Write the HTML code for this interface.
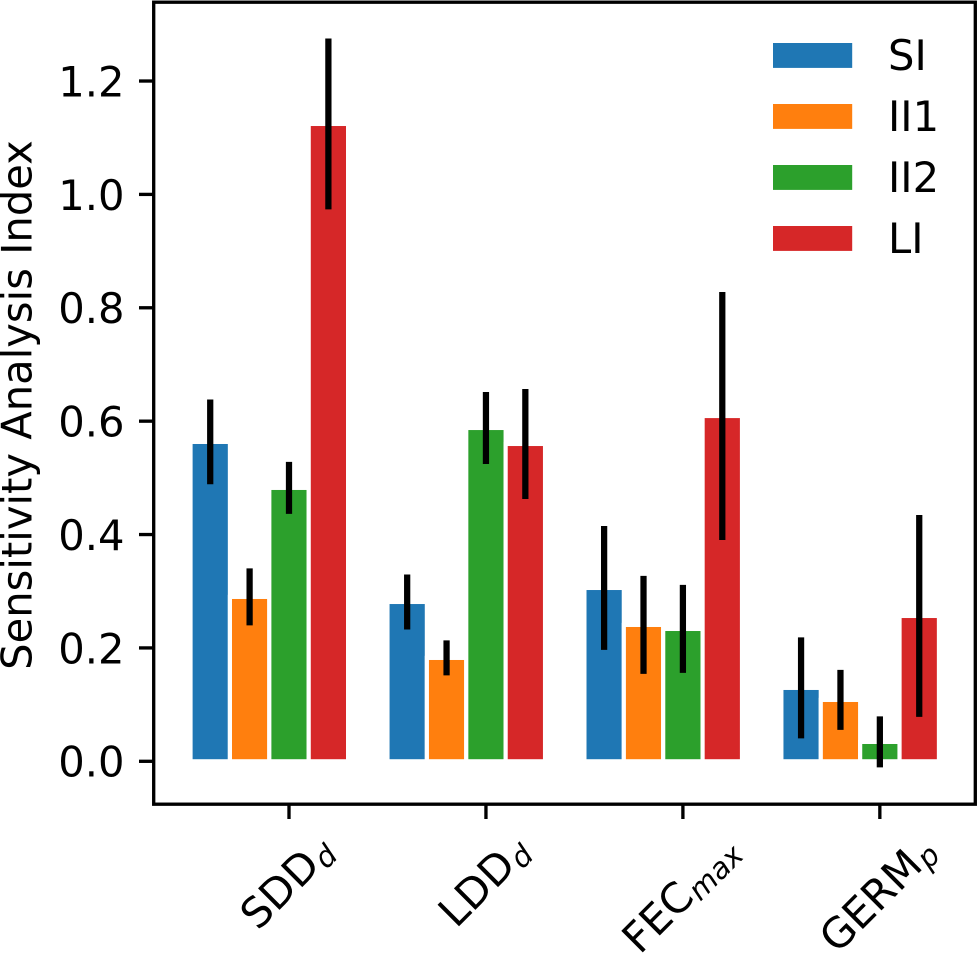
<!DOCTYPE html>
<html lang="en">
<head>
<meta charset="utf-8">
<title>Sensitivity Analysis Index</title>
<style>
html,body{margin:0;padding:0;background:#fff;}
svg{display:block;}
text{font-family:"DejaVu Sans",sans-serif;fill:#000;}
</style>
</head>
<body>
<svg id="chart" xmlns="http://www.w3.org/2000/svg" width="979" height="958" viewBox="0 0 979 958">
  <rect x="0" y="0" width="979" height="958" fill="#ffffff"/>
  <g id="bars"></g>
  <g id="errors"></g>
  <rect x="153.7" y="2.2" width="821.6" height="802" fill="none" stroke="#000" stroke-width="3.33"/>
  <g id="yaxis"></g>
  <g id="xaxis"></g>
  <text transform="translate(31.5,405) rotate(-90)" text-anchor="middle" font-size="41.67">Sensitivity Analysis Index</text>
  <g id="legend"></g>
</svg>
<script>
const categories = ['SDD', 'LDD', 'FEC', 'GERM'];
const categorySubs = ['d', 'd', 'max', 'p'];
const seriesNames = ['SI', 'II1', 'II2', 'LI'];
const seriesColors = ['#1f77b4', '#ff7f0e', '#2ca02c', '#d62728'];
const siValues = [0.5634, 0.2811, 0.3058, 0.1295];
const ii1Values = [0.2900, 0.1824, 0.2406, 0.1083];
const ii2Values = [0.4823, 0.5880, 0.2335, 0.0342];
const liValues = [1.1243, 0.5598, 0.6091, 0.2564];
const siErrors = [0.0747, 0.0485, 0.1093, 0.0891];
const ii1Errors = [0.0503, 0.0309, 0.0864, 0.0529];
const ii2Errors = [0.0459, 0.0635, 0.0776, 0.0450];
const liErrors = [0.1508, 0.0970, 0.2187, 0.1781];
const yTicks = [0, 0.2, 0.4, 0.6, 0.8, 1.0, 1.2];
const yTickLabels = ['0.0', '0.2', '0.4', '0.6', '0.8', '1.0', '1.2'];

const seriesValues = [siValues, ii1Values, ii2Values, liValues];
const seriesErrors = [siErrors, ii1Errors, ii2Errors, liErrors];

const NS = 'http://www.w3.org/2000/svg';
const barWidth = 0.2;
const xScale = function (u) { return 289.0 + 196.95 * u; };
const yScale = function (v) { return 761.3 - 566.9 * v; };
const seriesOffset = function (s) { return -0.4 + 0.2 * s; };

function make(parent, tag, attrs) {
  const el = document.createElementNS(NS, tag);
  Object.keys(attrs).forEach(function (k) { el.setAttribute(k, attrs[k]); });
  parent.appendChild(el);
  return el;
}

const barsG = document.getElementById('bars');
const errG = document.getElementById('errors');
seriesValues.forEach(function (vals, s) {
  vals.forEach(function (v, g) {
    const c = g + seriesOffset(s);
    const r = make(barsG, 'rect', {
      x: xScale(c - barWidth / 2),
      y: yScale(v),
      width: xScale(c + barWidth / 2) - xScale(c - barWidth / 2),
      height: yScale(0) - yScale(v),
      fill: seriesColors[s],
      stroke: '#ffffff',
      'stroke-width': 4.17
    });
    
    
    const e = seriesErrors[s][g];
    const l = make(errG, 'line', {
      x1: xScale(c),
      x2: xScale(c),
      y1: yScale(v + e),
      y2: yScale(v - e),
      stroke: '#000000',
      'stroke-width': 6.25
    });
    
    
  });
});

const yG = document.getElementById('yaxis');
yTicks.forEach(function (t, i) {
  const y = yScale(t);
  const tick = make(yG, 'line', { x1: 139, x2: 153.7, y1: y, y2: y, stroke: '#000', 'stroke-width': 3.33 });
  
  
  const lab = make(yG, 'text', { x: 124.5, y: y + 15.4, 'text-anchor': 'end', 'font-size': 41.67 });
  lab.textContent = yTickLabels[i];
  
  
});

const xG = document.getElementById('xaxis');
categories.forEach(function (name, g) {
  const x = xScale(g);
  const tick = make(xG, 'line', { x1: x, x2: x, y1: 804.2, y2: 819, stroke: '#000', 'stroke-width': 3.33 });
  
  
  const lab = make(xG, 'text', { x: 0, y: 0, 'text-anchor': 'middle', 'font-size': 41.67 });
  
  
  const main = make(lab, 'tspan', {});
  main.textContent = name;
  const sub = make(lab, 'tspan', { dx: 1, dy: 5, 'font-size': 29.17, 'font-style': 'italic' });
  sub.textContent = categorySubs[g];
  const len = lab.getComputedTextLength();
  const cy = 835.5 + (len + 24) * 0.7071 / 2;
  lab.setAttribute('transform', 'translate(' + (x - 2) + ',' + cy + ') rotate(-45) translate(0,14)');
});

const legG = document.getElementById('legend');
seriesNames.forEach(function (name, s) {
  const top = 43 + 61 * s;
  const patch = make(legG, 'rect', { x: 773, y: top, width: 79.2, height: 24.9, fill: seriesColors[s] });
  
  
  const lab = make(legG, 'text', { x: 888, y: top + 27, 'font-size': 41.67 });
  lab.textContent = name;
  
  
});
</script>
</body>
</html>
